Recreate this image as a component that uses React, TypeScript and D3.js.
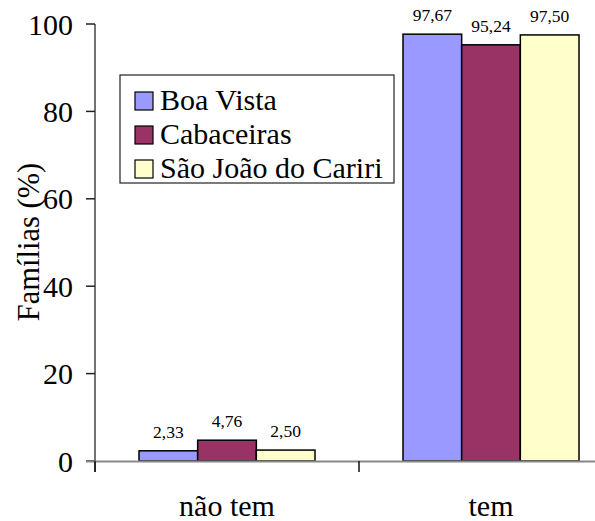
import React from "react";
import * as d3 from "d3";

const categories = ["não tem", "tem"];
const seriesNames = ["Boa Vista", "Cabaceiras", "São João do Cariri"];
const boaVista = [2.33, 97.67];
const cabaceiras = [4.76, 95.24];
const saoJoao = [2.5, 97.5];
const valueLabels = [["2,33", "97,67"], ["4,76", "95,24"], ["2,50", "97,50"]];
const yTicks = [0, 20, 40, 60, 80, 100];
const colors = ["#9999FF", "#993366", "#FFFFCC"];

const W = 595, H = 521;
const font = "'Times New Roman', 'Liberation Serif', 'DejaVu Serif', serif";
const ts = { fontFamily: font } as React.CSSProperties;

export default function App() {
  const series = [boaVista, cabaceiras, saoJoao];
  const y = d3.scaleLinear().domain([0, 100]).range([461, 24]);
  const x0 = d3.scaleBand().domain(categories).range([95, 623]).paddingInner(0).paddingOuter(0);
  const groupInset = 44;
  const x1 = d3.scaleBand().domain(seriesNames).range([0, x0.bandwidth() - 2 * groupInset]);

  return (
    <svg width={W} height={H} style={{ position: "fixed", left: 0, top: 0, background: "#fff", fontFamily: font }}>
      <rect x={0} y={0} width={W} height={H} fill="#fff" />
      {categories.map((c, ci) =>
        series.map((s, si) => {
          const bx = (x0(c) as number) + groupInset + (x1(seriesNames[si]) as number);
          const by = y(s[ci]);
          return (
            <g key={c + si}>
              <rect x={bx} y={by} width={x1.bandwidth()} height={y(0) - by} fill={colors[si]} stroke="#000" strokeWidth={1.5} />
              <text x={bx + x1.bandwidth() / 2} y={by - 13} fontSize={17.5} textAnchor="middle" fill="#000" style={ts}>
                {valueLabels[si][ci]}
              </text>
            </g>
          );
        })
      )}
      <line x1={95} x2={95} y1={24} y2={472} stroke="#444" strokeWidth={1.5} />
      {yTicks.map((t) => (
        <g key={t}>
          <line x1={86} x2={95} y1={y(t)} y2={y(t)} stroke="#222" strokeWidth={1.5} />
          <text x={73} y={y(t) + 10.5} fontSize={30} textAnchor="end" fill="#000" style={ts}>{t}</text>
        </g>
      ))}
      <line x1={86} x2={W} y1={461.5} y2={461.5} stroke="#888" strokeWidth={2} />
      {[95, ...categories.map((c) => (x0(c) as number) + x0.bandwidth())].map((tx, i) => (
        <line key={i} x1={tx} x2={tx} y1={461} y2={472} stroke="#111" strokeWidth={1.5} />
      ))}
      {categories.map((c) => (
        <text key={c} x={(x0(c) as number) + x0.bandwidth() / 2} y={516} fontSize={30} textAnchor="middle" fill="#000" style={ts}>
          {c}
        </text>
      ))}
      <text transform={`translate(39,242) rotate(-90)`} fontSize={30.5} textAnchor="middle" fill="#000" style={ts}>
        Famílias (%)
      </text>
      <rect x={120} y={75} width={274} height={108} fill="#fff" stroke="#222" strokeWidth={1.2} />
      {seriesNames.map((n, i) => (
        <g key={n}>
          <rect x={135} y={92 + i * 34} width={18} height={18} fill={colors[i]} stroke="#000" strokeWidth={1.2} />
          <text x={160} y={110 + i * 34} fontSize={30} fill="#000" style={ts}>{n}</text>
        </g>
      ))}
    </svg>
  );
}
